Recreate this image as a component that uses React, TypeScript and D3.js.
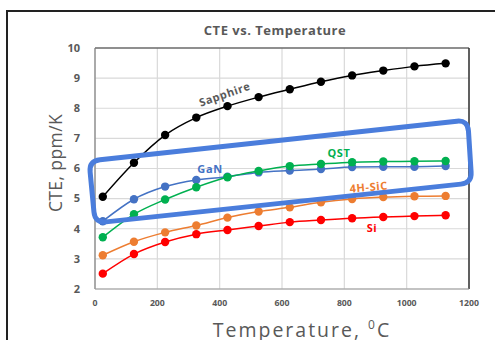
import React, { useEffect, useRef } from 'react';
import * as d3 from 'd3';

// temperatures (°C) where CTE was measured
const temps = [25, 125, 225, 325, 425, 525, 625, 725, 825, 925, 1025, 1125];

const sapphire = [5.06, 6.19, 7.11, 7.69, 8.07, 8.37, 8.63, 8.88, 9.09, 9.25, 9.39, 9.49];
const gan = [4.25, 4.98, 5.4, 5.62, 5.73, 5.87, 5.93, 5.98, 6.05, 6.06, 6.06, 6.08];
const qst = [3.72, 4.48, 4.97, 5.38, 5.71, 5.92, 6.08, 6.15, 6.21, 6.23, 6.24, 6.25];
const sic = [3.12, 3.57, 3.88, 4.11, 4.37, 4.57, 4.71, 4.88, 4.99, 5.05, 5.08, 5.09];
const si = [2.51, 3.16, 3.56, 3.82, 3.96, 4.09, 4.22, 4.29, 4.35, 4.39, 4.42, 4.45];

const xTicks = [0, 200, 400, 600, 800, 1000, 1200];
const yTicks = [2, 3, 4, 5, 6, 7, 8, 9, 10];

const series = [
    { name: 'Sapphire', values: sapphire, color: '#000000' },
    { name: 'Si', values: si, color: '#FF0000' },
    { name: '4H-SiC', values: sic, color: '#ED7D31' },
    { name: 'GaN', values: gan, color: '#4472C4' },
    { name: 'QST', values: qst, color: '#00B050' },
];

// highlight box corners in data units [temp, cte]
const boxCorners = [[-19, 6.25], [1196, 7.61], [1209, 5.52], [0, 4.19]];

// closed polygon with rounded corners
function roundedPolygon(pts, r) {
    const p = d3.path();
    const n = pts.length;
    const unit = (a, b) => {
        const dx = b[0] - a[0], dy = b[1] - a[1];
        const len = Math.hypot(dx, dy);
        return [dx / len, dy / len];
    };
    for (let i = 0; i < n; i++) {
        const prev = pts[(i - 1 + n) % n], cur = pts[i], next = pts[(i + 1) % n];
        const u1 = unit(cur, prev), u2 = unit(cur, next);
        const a = [cur[0] + u1[0] * r, cur[1] + u1[1] * r];
        const b = [cur[0] + u2[0] * r, cur[1] + u2[1] * r];
        if (i === 0) p.moveTo(a[0], a[1]);
        else p.lineTo(a[0], a[1]);
        p.quadraticCurveTo(cur[0], cur[1], b[0], b[1]);
    }
    p.closePath();
    return p.toString();
}

const App = () => {
    const svgRef = useRef(null);

    useEffect(() => {
        const margin = { top: 48, right: 26, bottom: 51, left: 95 };
        const W = 495, H = 340;
        const width = W - margin.left - margin.right;
        const height = H - margin.top - margin.bottom;

        const x = d3.scaleLinear().domain([0, 1200]).range([0, width]);
        const y = d3.scaleLinear().domain([2, 10]).range([height, 0]);

        const svg = d3.select(svgRef.current);
        svg.selectAll('*').remove();
        svg.attr('width', W).attr('height', H);

        const font = "'Open Sans', sans-serif";
        const gray = '#595959';

        svg.append('rect').attr('width', W).attr('height', H).attr('fill', '#fff');
        // outer frame (runs off right/bottom)
        svg.append('rect')
            .attr('x', 7).attr('y', 11).attr('width', W + 10).attr('height', H + 10)
            .attr('fill', 'none').attr('stroke', '#222').attr('stroke-width', 2);

        svg.append('text')
            .attr('x', 275).attr('y', 35)
            .attr('text-anchor', 'middle')
            .attr('font-family', font).attr('font-weight', 'bold').attr('font-size', 13)
            .attr('letter-spacing', 0.5)
            .attr('fill', gray)
            .text('CTE vs. Temperature');

        const g = svg.append('g').attr('transform', `translate(${margin.left},${margin.top})`);

        // grid
        g.append('g').selectAll('line').data(yTicks).join('line')
            .attr('x1', 0).attr('x2', width)
            .attr('y1', d => y(d)).attr('y2', d => y(d))
            .attr('stroke', '#d9d9d9').attr('stroke-width', 1.2);
        g.append('g').selectAll('line').data(xTicks).join('line')
            .attr('y1', 0).attr('y2', height)
            .attr('x1', d => x(d)).attr('x2', d => x(d))
            .attr('stroke', '#d9d9d9').attr('stroke-width', 1.2);

        // plot border
        g.append('line').attr('x1', 0).attr('x2', width).attr('y1', 0).attr('y2', 0).attr('stroke', '#333').attr('stroke-width', 1.2);
        g.append('line').attr('x1', width).attr('x2', width).attr('y1', 0).attr('y2', height).attr('stroke', '#333').attr('stroke-width', 1.5);
        g.append('line').attr('x1', 0).attr('x2', 0).attr('y1', 0).attr('y2', height).attr('stroke', '#808080').attr('stroke-width', 1.2);
        g.append('line').attr('x1', 0).attr('x2', width).attr('y1', height).attr('y2', height).attr('stroke', '#999').attr('stroke-width', 1.2);

        // tick labels
        g.append('g').selectAll('text').data(yTicks).join('text')
            .attr('x', -15).attr('y', d => y(d)).attr('dy', '0.35em')
            .attr('text-anchor', 'end')
            .attr('font-family', font).attr('font-weight', 'bold').attr('font-size', 11)
            .attr('fill', gray)
            .text(d => d);
        g.append('g').selectAll('text').data(xTicks).join('text')
            .attr('x', d => x(d)).attr('y', height + 17)
            .attr('text-anchor', 'middle')
            .attr('font-family', font).attr('font-weight', 'bold').attr('font-size', 8.7)
            .attr('fill', gray)
            .text(d => d);

        // axis titles
        svg.append('text')
            .attr('transform', `translate(62,163) rotate(-90)`)
            .attr('text-anchor', 'middle')
            .attr('font-family', font).attr('font-size', 17.5)
            .attr('letter-spacing', 0.4)
            .attr('fill', gray)
            .text('CTE, ppm/K');
        const xt = svg.append('text')
            .attr('x', 302).attr('y', 337)
            .attr('text-anchor', 'middle')
            .attr('font-family', font).attr('font-size', 19.5)
            .attr('letter-spacing', 2)
            .attr('fill', gray);
        xt.append('tspan').text('Temperature, ');
        xt.append('tspan').attr('font-size', 12).attr('dy', -8).text('0');
        xt.append('tspan').attr('dy', 8).text('C');

        // series
        const line = d3.line()
            .x((_, i) => x(temps[i]))
            .y(d => y(d))
            .curve(d3.curveMonotoneX);

        series.forEach(s => {
            g.append('path')
                .datum(s.values)
                .attr('fill', 'none')
                .attr('stroke', s.color)
                .attr('stroke-width', 1.5)
                .attr('d', line);
            g.append('g').selectAll('circle').data(s.values).join('circle')
                .attr('cx', (_, i) => x(temps[i]))
                .attr('cy', d => y(d))
                .attr('r', 4.2)
                .attr('fill', s.color);
        });

        // highlight box
        const boxPts = boxCorners.map(([t, c]) => [x(t), y(c)]);
        g.append('path')
            .attr('d', roundedPolygon(boxPts, 11))
            .attr('fill', 'none')
            .attr('stroke', '#4A7DDC')
            .attr('stroke-width', 5)
            .attr('stroke-linejoin', 'round');

        // series labels
        const label = (text, px, py, color, angle = 0, size = 11) => {
            svg.append('text')
                .attr('transform', `translate(${px},${py}) rotate(${angle})`)
                .attr('text-anchor', 'middle')
                .attr('font-family', font).attr('font-weight', 'bold').attr('font-size', size)
                .attr('letter-spacing', 0.6)
                .attr('fill', color)
                .text(text);
        };
        label('Sapphire', 226, 98, gray, -19);
        label('GaN', 210, 173, '#4472C4');
        label('QST', 339, 157, '#00B050');
        label('4H-SiC', 369, 191, '#ED7D31', -5);
        label('Si', 372, 232, '#FF0000');
    }, []);

    return (
        <svg ref={svgRef} style={{ position: 'absolute', left: 0, top: 0 }}></svg>
    );
};

export default App;
